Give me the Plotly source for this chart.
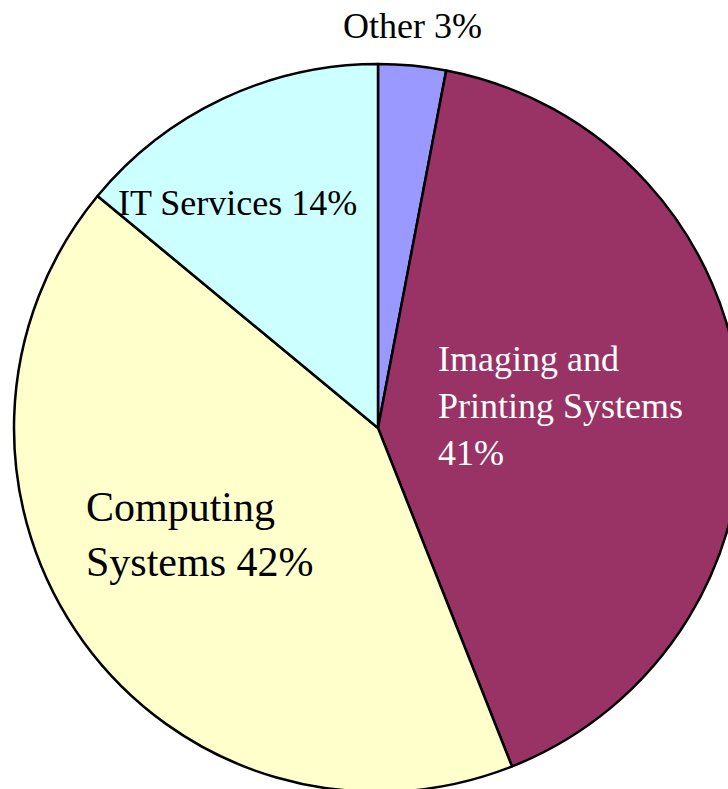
import plotly.graph_objects as go

categories = ["Other", "Imaging and Printing Systems", "Computing Systems", "IT Services"]
values = [3, 41, 42, 14]
colors = ["#9999FF", "#993366", "#FFFFCC", "#CCFFFF"]
label_lines = ["Other", "Imaging and<br>Printing Systems", "Computing<br>Systems", "IT Services"]
label_sep = [" ", "<br>", " ", " "]
label_color = ["black", "white", "black", "black"]
label_size = [36, 36, 42, 36]

W, H = 760, 800
cx, cy, r = 378, 428, 364

fig = go.Figure(go.Pie(
    labels=categories, values=values, sort=False, direction="clockwise", rotation=0,
    marker=dict(colors=colors, line=dict(color="black", width=2.5)),
    textinfo="none", hoverinfo="label+percent", showlegend=False,
    domain=dict(x=[(cx - r) / W, (cx + r) / W], y=[(H - cy - r) / H, (H - cy + r) / H]),
))

# label placement (pixels from top-left): x, y, xanchor
label_pos = [(412, 26, "center"), (436, 406, "left"), (84, 534, "left"), (116, 203, "left")]

for i, (px, py, xa) in enumerate(label_pos):
    fig.add_annotation(
        text=f"{label_lines[i]}{label_sep[i]}{values[i]}%",
        x=px / W, y=(H - py) / H, xref="paper", yref="paper",
        xanchor=xa, yanchor="middle", align="left", showarrow=False,
        font=dict(family="Liberation Serif", size=label_size[i], color=label_color[i]),
    )

fig.update_layout(width=W, height=H, margin=dict(l=0, r=0, t=0, b=0),
                  paper_bgcolor="white", plot_bgcolor="white")

fig.write_html("out.html", config={"displayModeBar": False},
               post_script="document.body.style.margin='0';document.body.style.overflow='hidden';document.documentElement.style.overflow='hidden';")
